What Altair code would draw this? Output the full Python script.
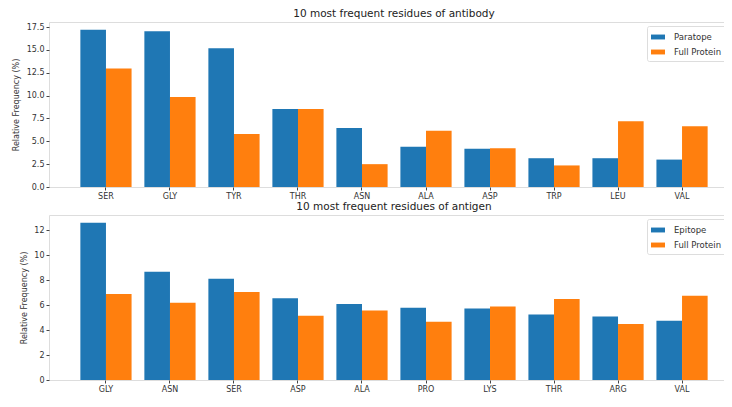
import altair as alt
import pandas as pd

ab_residues = ["SER", "GLY", "TYR", "THR", "ASN", "ALA", "ASP", "TRP", "LEU", "VAL"]
paratope = [17.2, 17.05, 15.2, 8.55, 6.45, 4.4, 4.2, 3.15, 3.15, 3.0]
ab_full = [12.97, 9.85, 5.8, 8.55, 2.5, 6.16, 4.24, 2.36, 7.2, 6.66]

ag_residues = ["GLY", "ASN", "SER", "ASP", "ALA", "PRO", "LYS", "THR", "ARG", "VAL"]
epitope = [12.6, 8.67, 8.12, 6.56, 6.09, 5.79, 5.74, 5.26, 5.1, 4.76]
ag_full = [6.9, 6.19, 7.06, 5.16, 5.58, 4.68, 5.9, 6.5, 4.5, 6.75]

BLUE = "#1f77b4"
ORANGE = "#ff7f0e"
FONT = "DejaVu Sans"


def make_df(residues, a, b, a_name):
    rows = []
    for r, va, vb in zip(residues, a, b):
        rows.append({"residue": r, "group": a_name, "value": va})
        rows.append({"residue": r, "group": "Full Protein", "value": vb})
    return pd.DataFrame(rows)


def panel(df, residues, a_name, title, ymax, ticks, fmt, title_x):
    groups = [a_name, "Full Protein"]
    return alt.Chart(df, title=alt.TitleParams(
        title, fontSize=10.5, font=FONT, fontWeight="normal", color="#222",
        anchor="middle", frame="group", offset=3)).mark_bar().encode(
        x=alt.X("residue:N", sort=residues, title=None,
                scale=alt.Scale(paddingInner=0.2, paddingOuter=0.49),
                axis=alt.Axis(labelAngle=0, labelFontSize=8, labelFont=FONT,
                              labelColor="#333", tickSize=3, tickColor="#444",
                              domain=False, labelPadding=2)),
        xOffset=alt.XOffset("group:N", sort=groups,
                            scale=alt.Scale(domain=groups, paddingInner=0, paddingOuter=0)),
        y=alt.Y("value:Q", title="Relative Frequency (%)",
                scale=alt.Scale(domain=[0, ymax], nice=False, zero=True),
                axis=alt.Axis(values=ticks, format=fmt, grid=False, domain=False,
                              labelFontSize=8, labelFont=FONT, labelColor="#333",
                              tickSize=3, tickColor="#444", labelPadding=2,
                              titleFontSize=8, titleFont=FONT, titleFontWeight="normal",
                              titleColor="#333", titleX=title_x)),
        color=alt.Color("group:N", sort=groups,
                        scale=alt.Scale(domain=groups, range=[BLUE, ORANGE]),
                        legend=alt.Legend(title=None, orient="none", legendX=598, legendY=4,
                                          labelFontSize=8.5, labelFont=FONT, labelColor="#333",
                                          symbolType="M-1,-0.35L1,-0.35L1,0.35L-1,0.35Z",
                                          symbolSize=196, symbolStrokeWidth=0,
                                          labelOffset=9, rowPadding=3,
                                          padding=4, strokeColor="#ddd", fillColor="white",
                                          cornerRadius=2)),
    ).properties(width=690, height=165)


top = panel(make_df(ab_residues, paratope, ab_full, "Paratope"), ab_residues, "Paratope",
            "10 most frequent residues of antibody", 18.06,
            [0, 2.5, 5, 7.5, 10, 12.5, 15, 17.5], ".1f", -29)
bottom = panel(make_df(ag_residues, epitope, ag_full, "Epitope"), ag_residues, "Epitope",
               "10 most frequent residues of antigen", 13.23,
               [0, 2, 4, 6, 8, 10, 12], "d", -21)

chart = alt.vconcat(top, bottom, spacing=0).resolve_scale(
    color="independent", x="independent", y="independent", xOffset="independent"
).configure_view(stroke="#555", strokeWidth=1).configure(
    padding={"left": 3, "top": 0, "right": -16, "bottom": 0}
)

chart.save("out.html", embed_options={"renderer": "svg", "actions": False})
